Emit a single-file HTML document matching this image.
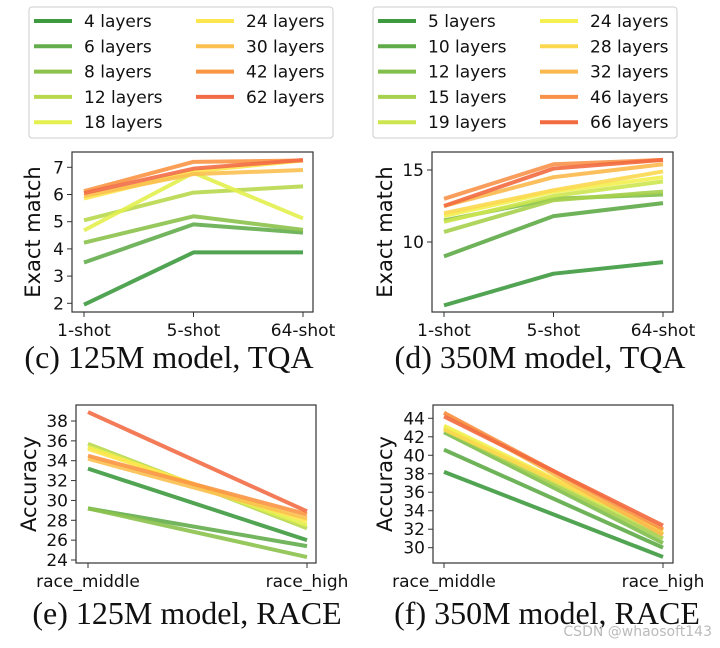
<!DOCTYPE html>
<html><head><meta charset="utf-8"><style>
body{margin:0;background:#fff;width:720px;height:643px;overflow:hidden}
svg text{font-family:"DejaVu Sans","Liberation Sans",sans-serif;fill:#111}
.cap{font-family:"Liberation Serif",serif;font-size:32px}
</style></head><body>
<svg id="s" width="720" height="643"></svg>
<script>
const colors9=['#3d9a3f','#63ad4c','#8bc24c','#b8d84e','#e3f04f','#fde64f','#fbc050','#f99543','#f26d45'];
const colors10=['#3d9a3f','#5eab47','#80bf4b','#a6d04d','#cde54f','#f3f04f','#fcd84f','#fbb84d','#f8924a','#f26a3f'];
const labelsLeft=['4 layers','6 layers','8 layers','12 layers','18 layers','24 layers','30 layers','42 layers','62 layers'];
const labelsRight=['5 layers','10 layers','12 layers','15 layers','19 layers','24 layers','28 layers','32 layers','46 layers','66 layers'];
const catsShot=['1-shot','5-shot','64-shot'];
const catsRace=['race_middle','race_high'];
const dataC=[[1.95,3.87,3.87],[3.5,4.9,4.6],[4.23,5.2,4.7],[5.05,6.07,6.3],[4.68,6.8,5.12],[5.85,6.85,7.25],[5.95,6.75,6.9],[6.12,7.2,7.25],[6.05,6.95,7.27]];
const dataD=[[5.6,7.8,8.6],[9.0,11.8,12.7],[11.5,13.0,13.3],[10.7,12.9,13.5],[11.4,13.2,14.2],[11.8,13.5,14.5],[12.0,13.6,14.9],[12.5,14.5,15.4],[13.0,15.4,15.7],[12.5,15.1,15.7]];
const dataE=[[33.2,26.0],[29.2,25.4],[29.2,24.3],[35.7,27.2],[35.4,27.5],[35.2,27.9],[34.2,28.2],[34.5,28.6],[38.9,28.9]];
const dataF=[[38.2,29.0],[40.6,30.0],[42.5,30.5],[42.8,31.0],[43.0,31.5],[43.2,31.8],[42.8,31.9],[44.6,31.4],[44.6,32.0],[44.2,32.4]];
const ticksC=[2,3,4,5,6,7], ticksD=[10,15], ticksE=[24,26,28,30,32,34,36,38], ticksF=[30,32,34,36,38,40,42,44];
const NS='http://www.w3.org/2000/svg', S=document.getElementById('s');
function el(t,a,p){const e=document.createElementNS(NS,t);for(const k in a)e.setAttribute(k,a[k]);(p||S).appendChild(e);return e;}
function txt(s,a,p){const e=el('text',a,p);e.textContent=s;return e;}
function chart(o){
  const g=el('g',{});
  
  
  const y=v=>o.y0px+(v-o.y0)*(o.y1px-o.y0px)/(o.y1-o.y0);
  const x=i=>o.xs[0]+i*(o.xs[1]-o.xs[0])/(o.cats.length-1);
  o.data.forEach((row,si)=>{
    const pl=el('polyline',{points:row.map((v,i)=>x(i)+','+y(v)).join(' '),fill:'none',stroke:o.colors[si],'stroke-width':4,'stroke-opacity':0.9,'stroke-linejoin':'round'},g);
    
    
  });
  const r=el('rect',{x:o.box[0],y:o.box[1],width:o.box[2]-o.box[0],height:o.box[3]-o.box[1],fill:'none',stroke:'#333','stroke-width':1.2},g);
  
  
  o.ticks.forEach(v=>{
    el('line',{x1:o.box[0]-5,x2:o.box[0],y1:y(v),y2:y(v),stroke:'#333'},g);
    const t=txt(String(v),{x:o.box[0]-8,y:y(v)+6,'text-anchor':'end','font-size':17},g);
    
    
  });
  o.cats.forEach((c,i)=>{
    el('line',{x1:x(i),x2:x(i),y1:o.box[3],y2:o.box[3]+5,stroke:'#333'},g);
    const t=txt(c,{x:x(i),y:o.box[3]+24,'text-anchor':'middle','font-size':17},g);
    
    
  });
  const yt=txt(o.ylab,{x:0,y:0,transform:'translate('+o.ylx+','+(o.box[1]+o.box[3])/2+') rotate(-90)','text-anchor':'middle','font-size':21},g);
  
  
  const c=txt(o.cap,{x:o.capx,y:o.capy,'text-anchor':'middle','class':'cap'},g);
  
  
}
function legend(bx,labels,colors,name){
  const g=el('g',{});
  
  
  el('rect',{x:bx,y:7,width:304,height:131,rx:3,fill:'#fff',stroke:'#ccc'},g);
  labels.forEach((l,i)=>{
    const col=i<5?0:1,row=i<5?i:i-5;
    const yy=21+row*25.3, lx=bx+5+col*162;
    el('line',{x1:lx,x2:lx+38,y1:yy,y2:yy,stroke:colors[i],'stroke-width':4},g);
    const t=txt(l,{x:lx+50,y:yy+6,'font-size':17},g);
    
    
  });
}
legend(29,labelsLeft,colors9,'legend-125m');
legend(373,labelsRight,colors10,'legend-350m');
chart({name:'chart-c',data:dataC,colors:colors9,cats:catsShot,ticks:ticksC,y0:2,y1:7,y0px:303.3,y1px:167.3,xs:[84,303],box:[72,152,313,312],ylab:'Exact match',ylx:40,cap:'(c) 125M model, TQA',capx:169,capy:368});
chart({name:'chart-d',data:dataD,colors:colors10,cats:catsShot,ticks:ticksD,y0:10,y1:15,y0px:242,y1px:170,xs:[444,663],box:[432,152,673,312],ylab:'Exact match',ylx:392,cap:'(d) 350M model, TQA',capx:540,capy:368});
chart({name:'chart-e',data:dataE,colors:colors9,cats:catsRace,ticks:ticksE,y0:24,y1:38,y0px:560,y1px:421,xs:[88,307],box:[76,405,316,563],ylab:'Accuracy',ylx:36,cap:'(e) 125M model, RACE',capx:187,capy:624});
chart({name:'chart-f',data:dataF,colors:colors10,cats:catsRace,ticks:ticksF,y0:30,y1:44,y0px:547.7,y1px:418.3,xs:[444,663],box:[433,405,673,563],ylab:'Accuracy',ylx:392,cap:'(f) 350M model, RACE',capx:547,capy:624});
const w=txt('CSDN @whaosoft143',{x:712,y:636,'text-anchor':'end','font-size':14,style:'fill:#bbb'});


</script>
</body></html>
